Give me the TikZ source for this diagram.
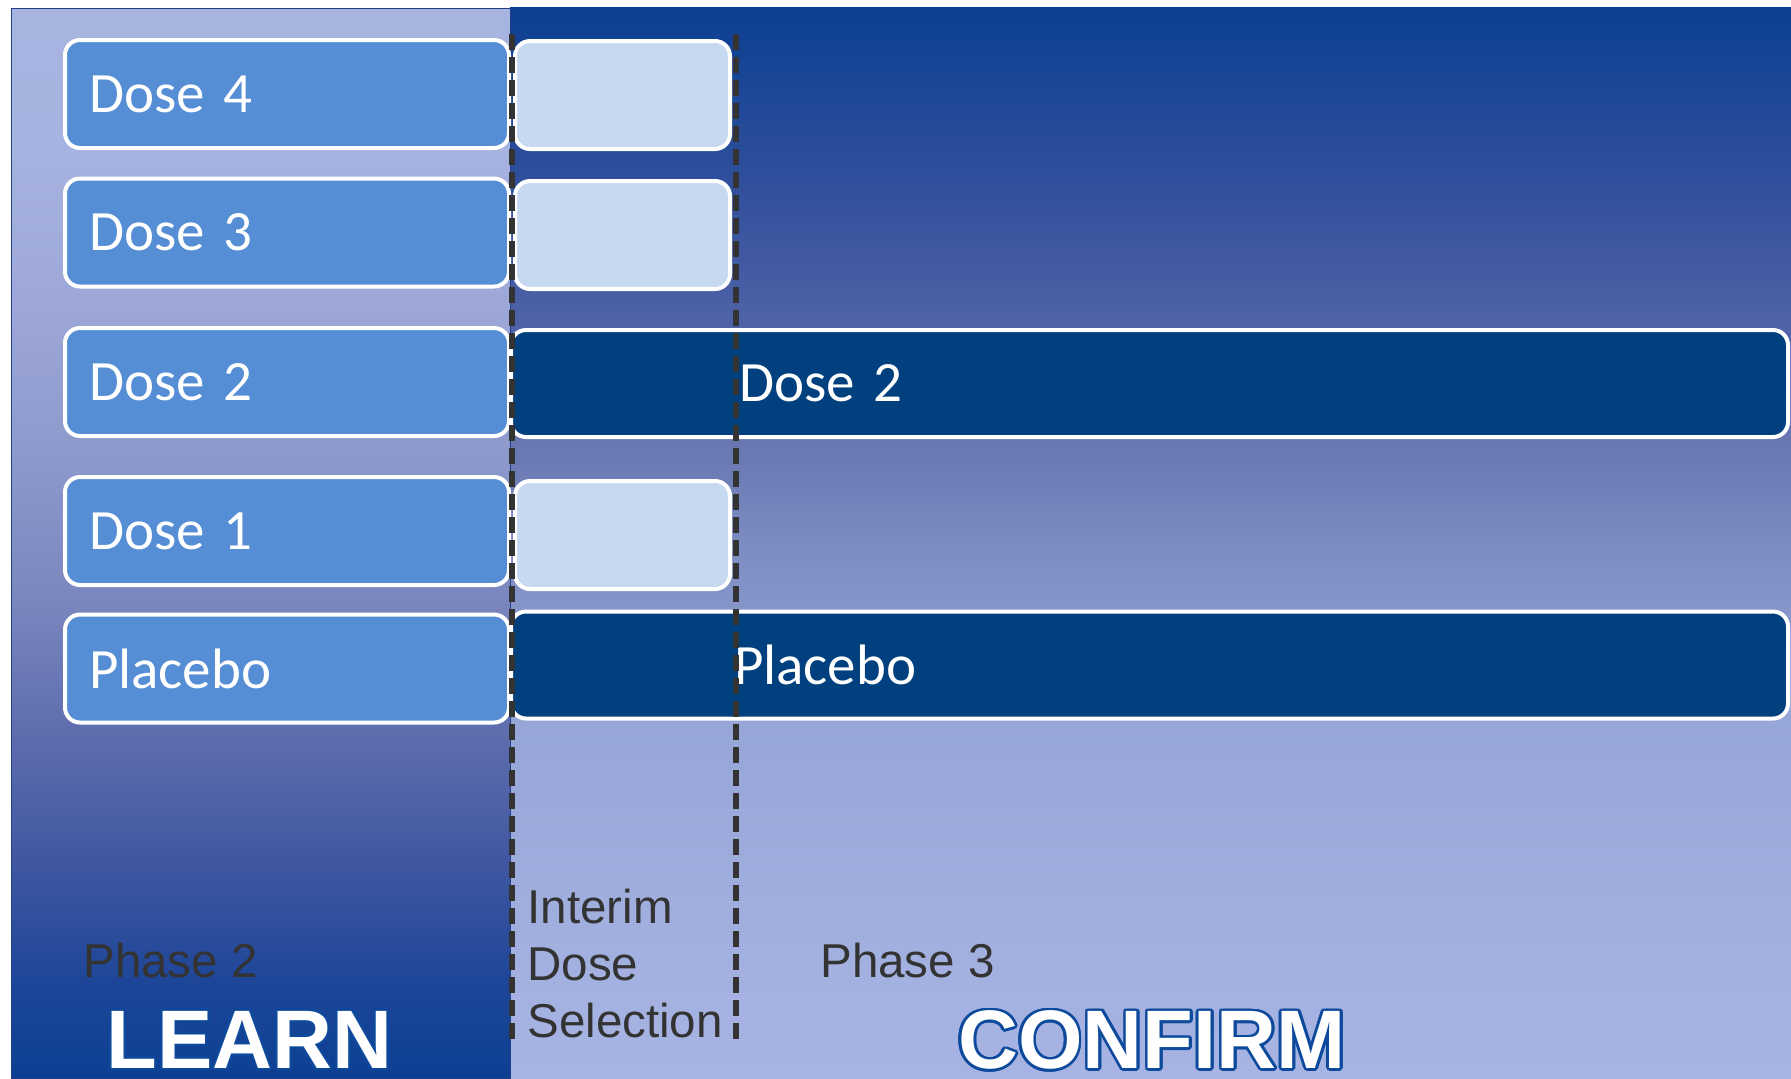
\documentclass[tikz,border=0pt]{standalone}
\usepackage{fontspec}
\setmainfont{Carlito}
\newfontfamily\arialfont{Liberation Sans}
\usetikzlibrary{calc}

% palette
\definecolor{boxblue}{HTML}{558ED5}
\definecolor{boxlight}{HTML}{C6D9F1}
\definecolor{boxdark}{HTML}{00407F}
\definecolor{dashgray}{HTML}{333333}
\definecolor{labelgray}{HTML}{333333}
\definecolor{outlineblue}{HTML}{0E4A9C}
\definecolor{paneledge}{HTML}{1F3F8A}

% left panel: light at the top, deep blue at the bottom
\definecolor{L0}{HTML}{0C4093}
\definecolor{L1}{HTML}{1E4698}
\definecolor{L2}{HTML}{3E56A0}
\definecolor{L3}{HTML}{5B6AAC}
\definecolor{L4}{HTML}{7B86BE}
\definecolor{L5}{HTML}{8E9ACC}
\definecolor{L6}{HTML}{9DA8D8}
\definecolor{L7}{HTML}{A6B2DF}
\definecolor{L8}{HTML}{A7B4E0}
\pgfdeclareverticalshading{learnbg}{100bp}{color(0bp)=(L0); color(25bp)=(L0);
  color(29.6bp)=(L1); color(34.7bp)=(L2); color(40.35bp)=(L3); color(47.35bp)=(L4);
  color(54.35bp)=(L5); color(61.35bp)=(L6); color(68.35bp)=(L7); color(75bp)=(L8);
  color(100bp)=(L8)}

% right panel: deep blue at the top, light at the bottom
\definecolor{R0}{HTML}{A7B4E3}
\definecolor{R1}{HTML}{A0AEDE}
\definecolor{R2}{HTML}{95A5D5}
\definecolor{R3}{HTML}{7D8CC2}
\definecolor{R4}{HTML}{6A78B3}
\definecolor{R5}{HTML}{5063A8}
\definecolor{R6}{HTML}{34519D}
\definecolor{R7}{HTML}{0B3F91}
\pgfdeclareverticalshading{confirmbg}{100bp}{color(0bp)=(R0); color(25bp)=(R0);
  color(33.3bp)=(R1); color(42.65bp)=(R2); color(49.65bp)=(R3); color(54.35bp)=(R4);
  color(60bp)=(R5); color(66bp)=(R6); color(75bp)=(R7); color(100bp)=(R7)}

\tikzset{
  armbox/.style={draw=white, line width=2pt, rounded corners=7.5pt,
    minimum height=54pt, inner ysep=0pt, align=left, text=white,
    font=\fontsize{28.5pt}{34pt}\selectfont},
  learnbox/.style={armbox, fill=boxblue, minimum width=222pt, text width=198pt, inner xsep=12pt},
  gapbox/.style={armbox, fill=boxlight, minimum width=107.5pt},
  keepbox/.style={armbox, fill=boxdark, minimum width=638.5pt, minimum height=53.5pt,
    text width=638.5pt, inner xsep=0pt},
  divider/.style={dashgray, line width=2.8pt, dash pattern=on 8pt off 3.5pt},
  phaselabel/.style={anchor=west, inner sep=0pt, text=labelgray,
    font=\arialfont\fontsize{23.75pt}{28.5pt}\selectfont},
  bigword/.style={anchor=west, inner sep=0pt, font=\arialfont\bfseries\fontsize{41.5pt}{48pt}\selectfont}
}

\begin{document}
\begin{tikzpicture}[x=0.5pt, y=-0.5pt]
  \useasboundingbox (0,0) rectangle (1791,1078);
  \fill[white] (0,0) rectangle (1791,1078);

  % background panels
  \shade[shading=confirmbg] (510,7) rectangle (1791,1078);
  \shade[shading=learnbg, draw=paneledge, line width=0.5pt] (11,8) rectangle (510,1078);

  % phase 2 arms
  \node[learnbox] (d4) at (287,94) {Dose 4};
  \node[learnbox] (d3) at (287,232.5) {Dose 3};
  \node[learnbox] (d2) at (287,382) {Dose 2};
  \node[learnbox] (d1) at (287,531) {Dose 1};
  \node[learnbox] (pl) at (287,668.5) {Placebo};

  % arms dropped at the interim
  \node[gapbox] (g4) at (622.5,95) {};
  \node[gapbox] (g3) at (622.5,235) {};
  \node[gapbox] (g1) at (622.5,535) {};

  % arms carried into phase 3
  \node[keepbox] (k2) at (1149.5,383.5) {\hspace*{114pt}Dose 2};
  \node[keepbox] (kp) at (1149.5,665) {\hspace*{111.5pt}Placebo};

  % interim analysis window
  \coordinate (a1) at (512,34);
  \coordinate (b1) at (512,1045);
  \coordinate (a2) at (736,34);
  \coordinate (b2) at (736,1045);
  \draw[divider] (a1) -- (b1);
  \draw[divider] (a2) -- (b2);

  % captions
  \node[phaselabel] (p2) at (83,960) {Phase 2};
  \node[phaselabel] (p3) at (820,960) {Phase 3};
  \node[phaselabel, align=left] (ids) at (527,963) {Interim\\Dose\\Selection};

  % outlined headings
  \foreach \ang in {0,20,...,340} {
    \node[bigword, text=outlineblue] (lo\ang) at ($(106,1040)+(\ang:2)$) {LEARN};
    \node[bigword, text=outlineblue] (co\ang) at ($(958,1040)+(\ang:2.6)$) {CONFIRM};
  }
  \node[bigword, text=white] (learn) at (106,1040) {LEARN};
  \node[bigword, text=white] (confirm) at (958,1040) {CONFIRM};
\end{tikzpicture}
\end{document}
